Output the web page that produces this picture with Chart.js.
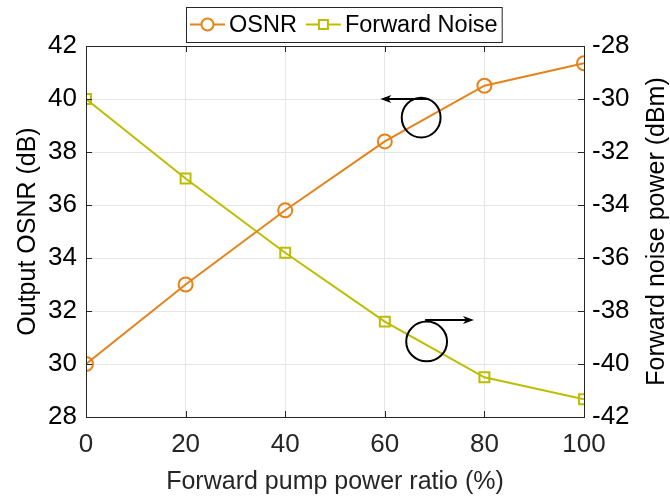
<!DOCTYPE html>
<html>
<head>
<meta charset="utf-8">
<script src="https://cdn.jsdelivr.net/npm/chart.js@4.4.1/dist/chart.umd.min.js"></script>
<style>
  html, body { margin: 0; padding: 0; background: #fff; }
  #wrap { width: 670px; height: 498px; position: relative; }
</style>
</head>
<body>
<div id="wrap"><canvas id="chart" width="670" height="498"></canvas></div>
<script>
// --- data ---
const pumpRatio = [0, 20, 40, 60, 80, 100];
const osnrValues = [30, 33, 35.8, 38.4, 40.5, 41.35];
const noiseValues = [-30, -33, -35.8, -38.4, -40.5, -41.33];
const xTickValues = [0, 20, 40, 60, 80, 100];
const osnrTicks = [28, 30, 32, 34, 36, 38, 40, 42];
const noiseTicks = [-42, -40, -38, -36, -34, -32, -30, -28];

const FONT = '"Liberation Sans", Arial, sans-serif';
const TXT = '#262626';
const ORANGE = '#E5821A';
const OLIVE = '#BDBD00';

// legend drawn by hand so each entry gets line + marker, inside a box
const boxedLegend = {
    id: 'boxedLegend',
    afterDraw(chart) {
        const ctx = chart.ctx;
        const items = [
            { label: 'OSNR', color: ORANGE, marker: 'circle' },
            { label: 'Forward Noise', color: OLIVE, marker: 'rect' }
        ];
        ctx.save();
        ctx.font = '23.5px ' + FONT;
        const lineLen = 35, gap = 4, sep = 9, pad = 4;
        let total = pad;
        items.forEach((it, i) => {
            total += lineLen + gap + ctx.measureText(it.label).width + (i < items.length - 1 ? sep : pad);
        });
        const x0 = 186, y0 = 7, h = 35;
        ctx.fillStyle = '#fff';
        ctx.fillRect(x0, y0, total, h);
        ctx.strokeStyle = '#262626';
        ctx.lineWidth = 1;
        ctx.strokeRect(x0 + 0.5, y0 + 0.5, total, h);
        let x = x0 + pad;
        const ym = y0 + h / 2;
        items.forEach((it, i) => {
            ctx.strokeStyle = it.color;
            ctx.lineWidth = 2;
            ctx.beginPath(); ctx.moveTo(x, ym); ctx.lineTo(x + lineLen, ym); ctx.stroke();
            ctx.beginPath();
            if (it.marker === 'circle') ctx.arc(x + lineLen / 2, ym, 6, 0, Math.PI * 2);
            else ctx.rect(x + lineLen / 2 - 4.5, ym - 4.5, 9, 9);
            ctx.fillStyle = '#fff'; ctx.fill(); ctx.stroke();
            x += lineLen + gap;
            ctx.fillStyle = '#000';
            ctx.textBaseline = 'middle';
            ctx.fillText(it.label, x, ym + 1);
            x += ctx.measureText(it.label).width + sep;
        });
        ctx.restore();
    }
};

// axis box, inward ticks, right-hand title (reads bottom to top) and the circle/arrow notes
const frameAndNotes = {
    id: 'frameAndNotes',
    afterDatasetsDraw(chart) {
        const { ctx, chartArea: a, scales } = chart;
        const sx = scales.x, sl = scales.yL, sr = scales.yR;
        ctx.save();
        ctx.strokeStyle = '#262626';
        ctx.lineWidth = 1;
        ctx.strokeRect(a.left + 0.5, a.top + 0.5, a.right - a.left, a.bottom - a.top);
        const t = 6;
        ctx.beginPath();
        xTickValues.forEach(v => {
            const px = Math.round(sx.getPixelForValue(v)) + 0.5;
            ctx.moveTo(px, a.bottom); ctx.lineTo(px, a.bottom - t);
            ctx.moveTo(px, a.top); ctx.lineTo(px, a.top + t);
        });
        osnrTicks.forEach(v => {
            const py = Math.round(sl.getPixelForValue(v)) + 0.5;
            ctx.moveTo(a.left, py); ctx.lineTo(a.left + t, py);
        });
        noiseTicks.forEach(v => {
            const py = Math.round(sr.getPixelForValue(v)) + 0.5;
            ctx.moveTo(a.right, py); ctx.lineTo(a.right - t, py);
        });
        ctx.stroke();

        ctx.save();
        ctx.translate(657, (a.top + a.bottom) / 2);
        ctx.rotate(-Math.PI / 2);
        ctx.font = '25px ' + FONT;
        ctx.fillStyle = '#000';
        ctx.textAlign = 'center';
        ctx.textBaseline = 'middle';
        ctx.fillText('Forward noise power (dBm)', 0, 0);
        ctx.restore();

        const notes = [
            { cx: 67.3, cy: 39.3, rx: 3.9, ry: 0.75, ax0: 68.6, ax1: 59.1, ay: 40.0 },
            { cx: 68.4, cy: 30.85, rx: 4.1, ry: 0.75, ax0: 68.1, ax1: 77.9, ay: 31.66 }
        ];
        ctx.strokeStyle = '#000';
        ctx.fillStyle = '#000';
        ctx.lineWidth = 2;
        notes.forEach(n => {
            const px = sx.getPixelForValue(n.cx), py = sl.getPixelForValue(n.cy);
            const rx = Math.abs(sx.getPixelForValue(n.cx + n.rx) - px);
            const ry = Math.abs(sl.getPixelForValue(n.cy + n.ry) - py);
            ctx.beginPath(); ctx.ellipse(px, py, rx, ry, 0, 0, Math.PI * 2); ctx.stroke();
            const x0 = sx.getPixelForValue(n.ax0), x1 = sx.getPixelForValue(n.ax1);
            const y = sl.getPixelForValue(n.ay);
            const dir = Math.sign(x1 - x0);
            ctx.beginPath(); ctx.moveTo(x0, y); ctx.lineTo(x1 - dir * 4, y); ctx.stroke();
            ctx.beginPath();
            ctx.moveTo(x1, y);
            ctx.lineTo(x1 - dir * 11, y - 4);
            ctx.lineTo(x1 - dir * 8, y);
            ctx.lineTo(x1 - dir * 11, y + 4);
            ctx.closePath(); ctx.fill();
        });
        ctx.restore();
    }
};

new Chart(document.getElementById('chart'), {
    type: 'line',
    data: {
        datasets: [
            {
                label: 'OSNR',
                data: pumpRatio.map((x, i) => ({ x, y: osnrValues[i] })),
                yAxisID: 'yL',
                borderColor: ORANGE, borderWidth: 2,
                pointStyle: 'circle', pointRadius: 7, pointBorderWidth: 2,
                pointBackgroundColor: 'rgba(0,0,0,0)', pointBorderColor: ORANGE,
                tension: 0
            },
            {
                label: 'Forward Noise',
                data: pumpRatio.map((x, i) => ({ x, y: noiseValues[i] })),
                yAxisID: 'yR',
                borderColor: OLIVE, borderWidth: 2,
                pointStyle: 'rect', pointRadius: 7, pointBorderWidth: 2,
                pointBackgroundColor: 'rgba(0,0,0,0)', pointBorderColor: OLIVE,
                tension: 0
            }
        ]
    },
    options: {
        responsive: false,
        animation: false,
        layout: { padding: { top: 46, left: 0, right: 0, bottom: 0 } },
        plugins: { legend: { display: false }, tooltip: { enabled: false } },
        scales: {
            x: {
                type: 'linear', min: 0, max: 100,
                afterBuildTicks: s => { s.ticks = xTickValues.map(v => ({ value: v })); },
                afterFit: s => { s.height = 81; },
                grid: { color: '#e6e6e6', drawTicks: false },
                border: { display: false },
                ticks: { color: TXT, font: { family: FONT, size: 26 }, padding: 12 },
                title: { display: true, text: 'Forward pump power ratio (%)', color: TXT,
                         font: { family: FONT, size: 25, lineHeight: 1 }, padding: { top: 0, bottom: 3 } }
            },
            yL: {
                type: 'linear', position: 'left', min: 28, max: 42,
                afterBuildTicks: s => { s.ticks = osnrTicks.map(v => ({ value: v })); },
                afterFit: s => { s.width = 86; },
                grid: { color: '#e6e6e6', drawTicks: false },
                border: { display: false },
                ticks: { color: '#000', font: { family: FONT, size: 26 }, padding: 9 },
                title: { display: true, text: 'Output OSNR (dB)', color: '#000',
                         font: { family: FONT, size: 25, lineHeight: 1 }, padding: { top: 16, bottom: 0 } }
            },
            yR: {
                type: 'linear', position: 'right', min: -42, max: -28,
                afterBuildTicks: s => { s.ticks = noiseTicks.map(v => ({ value: v })); },
                afterFit: s => { s.width = 86; },
                grid: { display: false, drawTicks: false },
                border: { display: false },
                ticks: { color: '#000', font: { family: FONT, size: 26 }, padding: 8 },
                title: { display: false }
            }
        }
    },
    plugins: [frameAndNotes, boxedLegend]
});
</script>
</body>
</html>
